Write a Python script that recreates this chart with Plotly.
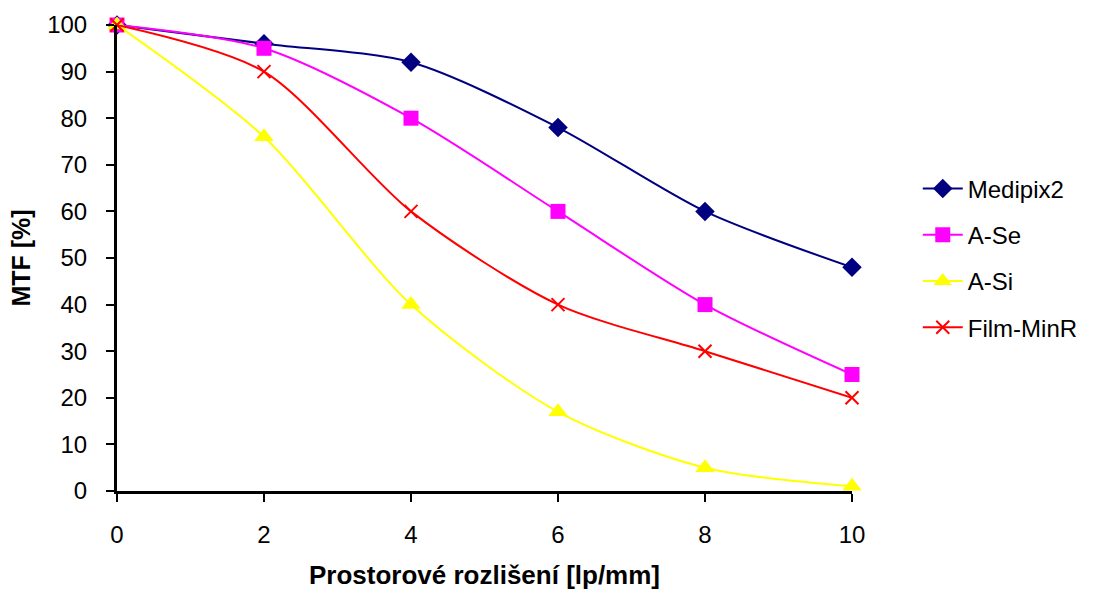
import plotly.graph_objects as go

x_vals = [0, 2, 4, 6, 8, 10]
medipix2 = [100, 96, 92, 78, 60, 48]
a_se = [100, 95, 80, 60, 40, 25]
a_si = [100, 76, 40, 17, 5, 1]
film_minr = [100, 90, 60, 40, 30, 20]

series = [
    ("Medipix2", medipix2, "#000080", "diamond", 15, None),
    ("A-Se", a_se, "#FF00FF", "square", 15, None),
    ("A-Si", a_si, "#FFFF00", "triangle-up", 17, None),
    ("Film-MinR", film_minr, "#FF0000", "x-thin", 13, 2),
]

fig = go.Figure()
for i, (name, vals, color, sym, size, lw) in enumerate(series):
    marker = dict(symbol=sym, size=size, color=color)
    if lw:
        marker["line"] = dict(color=color, width=lw)
    fig.add_trace(go.Scatter(
        x=x_vals, y=vals, name=name, mode="lines+markers",
        line=dict(color=color, width=2, shape="spline", smoothing=0.8),
        marker=marker, cliponaxis=False, legendgroup=str(i),
    ))

fig.update_layout(
    width=1094, height=592,
    margin=dict(l=117, r=241, t=25, b=101),
    paper_bgcolor="white", plot_bgcolor="white",
    font=dict(family="Liberation Sans, Arial", size=24, color="black"),
    showlegend=True,
    legend=dict(x=1.088, y=0.5, xanchor="left", yanchor="middle",
                font=dict(size=24), tracegroupgap=12, itemwidth=40,
                bgcolor="rgba(0,0,0,0)"),
    xaxis=dict(range=[0, 10], tickvals=x_vals, showgrid=False, zeroline=False,
               showline=True, linecolor="black", linewidth=3, automargin=False,
               ticks="outside", ticklen=8, tickwidth=2, tickcolor="black",
               ticklabelstandoff=12, tickfont=dict(size=24),
               title=dict(text="<b>Prostorové rozlišení [lp/mm]</b>", standoff=20,
                          font=dict(size=26))),
    yaxis=dict(range=[0, 100], dtick=10, showgrid=False, zeroline=False,
               showline=True, linecolor="black", linewidth=3, automargin=False,
               ticks="outside", ticklen=8, tickwidth=2, tickcolor="black",
               ticklabelstandoff=14, tickfont=dict(size=24),
               title=dict(text="<b>MTF [%]</b>", standoff=10, font=dict(size=25))),
)

fig.write_html("out.html")
